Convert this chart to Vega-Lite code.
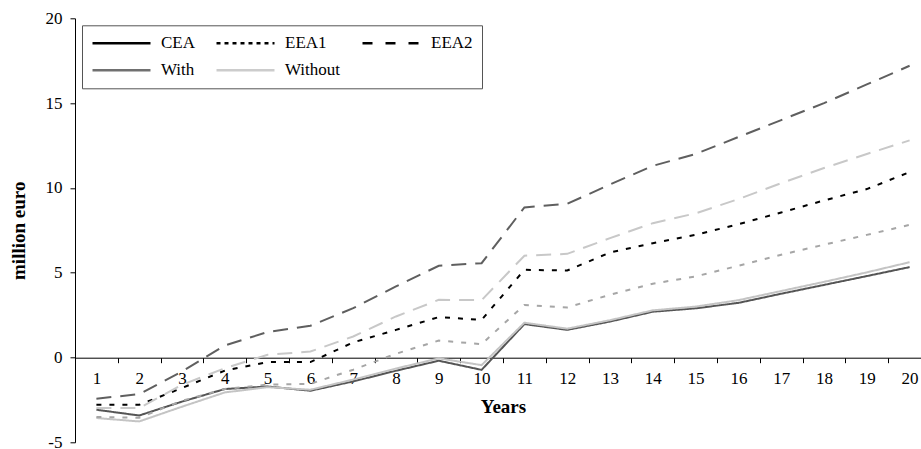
{
  "$schema": "https://vega.github.io/schema/vega-lite/v6.json",
  "autosize": {"type": "none"},
  "width": 846,
  "height": 424,
  "padding": {"left": 75, "top": 18.3, "right": 0, "bottom": 6.7},
  "background": "white",
  "config": {
    "font": "Liberation Serif",
    "view": {"stroke": null},
    "axis": {"labelFont": "Liberation Serif", "titleFont": "Liberation Serif", "domainColor": "#000", "tickColor": "#000", "labelColor": "#000", "titleColor": "#000", "grid": false, "labelFontSize": 17, "titleFontSize": 19, "titleFontWeight": "bold", "tickSize": 5, "labelPadding": 8},
    "legend": {"labelFont": "Liberation Serif"}
  },
  "datasets": {
    "lines": [
      {"year": 1, "series": "CEA With", "value": -3.08}, {"year": 2, "series": "CEA With", "value": -3.42}, {"year": 3, "series": "CEA With", "value": -2.6}, {"year": 4, "series": "CEA With", "value": -1.86}, {"year": 5, "series": "CEA With", "value": -1.71}, {"year": 6, "series": "CEA With", "value": -1.96}, {"year": 7, "series": "CEA With", "value": -1.41}, {"year": 8, "series": "CEA With", "value": -0.78}, {"year": 9, "series": "CEA With", "value": -0.19}, {"year": 10, "series": "CEA With", "value": -0.73}, {"year": 11, "series": "CEA With", "value": 1.97}, {"year": 12, "series": "CEA With", "value": 1.63}, {"year": 13, "series": "CEA With", "value": 2.12}, {"year": 14, "series": "CEA With", "value": 2.7}, {"year": 15, "series": "CEA With", "value": 2.9}, {"year": 16, "series": "CEA With", "value": 3.22}, {"year": 17, "series": "CEA With", "value": 3.76}, {"year": 18, "series": "CEA With", "value": 4.28}, {"year": 19, "series": "CEA With", "value": 4.8}, {"year": 20, "series": "CEA With", "value": 5.33},
      {"year": 1, "series": "CEA Without", "value": -3.57}, {"year": 2, "series": "CEA Without", "value": -3.77}, {"year": 3, "series": "CEA Without", "value": -2.9}, {"year": 4, "series": "CEA Without", "value": -2.06}, {"year": 5, "series": "CEA Without", "value": -1.75}, {"year": 6, "series": "CEA Without", "value": -1.9}, {"year": 7, "series": "CEA Without", "value": -1.3}, {"year": 8, "series": "CEA Without", "value": -0.65}, {"year": 9, "series": "CEA Without", "value": -0.05}, {"year": 10, "series": "CEA Without", "value": -0.45}, {"year": 11, "series": "CEA Without", "value": 2.05}, {"year": 12, "series": "CEA Without", "value": 1.7}, {"year": 13, "series": "CEA Without", "value": 2.2}, {"year": 14, "series": "CEA Without", "value": 2.78}, {"year": 15, "series": "CEA Without", "value": 3.0}, {"year": 16, "series": "CEA Without", "value": 3.38}, {"year": 17, "series": "CEA Without", "value": 3.92}, {"year": 18, "series": "CEA Without", "value": 4.46}, {"year": 19, "series": "CEA Without", "value": 5.02}, {"year": 20, "series": "CEA Without", "value": 5.62},
      {"year": 1, "series": "EEA1 With", "value": -2.79}, {"year": 2, "series": "EEA1 With", "value": -2.79}, {"year": 3, "series": "EEA1 With", "value": -1.8}, {"year": 4, "series": "EEA1 With", "value": -0.77}, {"year": 5, "series": "EEA1 With", "value": -0.27}, {"year": 6, "series": "EEA1 With", "value": -0.27}, {"year": 7, "series": "EEA1 With", "value": 0.89}, {"year": 8, "series": "EEA1 With", "value": 1.63}, {"year": 9, "series": "EEA1 With", "value": 2.38}, {"year": 10, "series": "EEA1 With", "value": 2.22}, {"year": 11, "series": "EEA1 With", "value": 5.17}, {"year": 12, "series": "EEA1 With", "value": 5.13}, {"year": 13, "series": "EEA1 With", "value": 6.19}, {"year": 14, "series": "EEA1 With", "value": 6.74}, {"year": 15, "series": "EEA1 With", "value": 7.23}, {"year": 16, "series": "EEA1 With", "value": 7.86}, {"year": 17, "series": "EEA1 With", "value": 8.55}, {"year": 18, "series": "EEA1 With", "value": 9.26}, {"year": 19, "series": "EEA1 With", "value": 9.93}, {"year": 20, "series": "EEA1 With", "value": 10.93},
      {"year": 1, "series": "EEA1 Without", "value": -3.51}, {"year": 2, "series": "EEA1 Without", "value": -3.55}, {"year": 3, "series": "EEA1 Without", "value": -2.55}, {"year": 4, "series": "EEA1 Without", "value": -1.86}, {"year": 5, "series": "EEA1 Without", "value": -1.6}, {"year": 6, "series": "EEA1 Without", "value": -1.55}, {"year": 7, "series": "EEA1 Without", "value": -0.72}, {"year": 8, "series": "EEA1 Without", "value": 0.22}, {"year": 9, "series": "EEA1 Without", "value": 1.0}, {"year": 10, "series": "EEA1 Without", "value": 0.79}, {"year": 11, "series": "EEA1 Without", "value": 3.1}, {"year": 12, "series": "EEA1 Without", "value": 2.95}, {"year": 13, "series": "EEA1 Without", "value": 3.7}, {"year": 14, "series": "EEA1 Without", "value": 4.35}, {"year": 15, "series": "EEA1 Without", "value": 4.78}, {"year": 16, "series": "EEA1 Without", "value": 5.41}, {"year": 17, "series": "EEA1 Without", "value": 6.06}, {"year": 18, "series": "EEA1 Without", "value": 6.65}, {"year": 19, "series": "EEA1 Without", "value": 7.23}, {"year": 20, "series": "EEA1 Without", "value": 7.82},
      {"year": 1, "series": "EEA2 With", "value": -2.43}, {"year": 2, "series": "EEA2 With", "value": -2.16}, {"year": 3, "series": "EEA2 With", "value": -0.82}, {"year": 4, "series": "EEA2 With", "value": 0.71}, {"year": 5, "series": "EEA2 With", "value": 1.5}, {"year": 6, "series": "EEA2 With", "value": 1.87}, {"year": 7, "series": "EEA2 With", "value": 2.91}, {"year": 8, "series": "EEA2 With", "value": 4.19}, {"year": 9, "series": "EEA2 With", "value": 5.41}, {"year": 10, "series": "EEA2 With", "value": 5.56}, {"year": 11, "series": "EEA2 With", "value": 8.85}, {"year": 12, "series": "EEA2 With", "value": 9.06}, {"year": 13, "series": "EEA2 With", "value": 10.2}, {"year": 14, "series": "EEA2 With", "value": 11.3}, {"year": 15, "series": "EEA2 With", "value": 12.0}, {"year": 16, "series": "EEA2 With", "value": 13.0}, {"year": 17, "series": "EEA2 With", "value": 14.0}, {"year": 18, "series": "EEA2 With", "value": 15.0}, {"year": 19, "series": "EEA2 With", "value": 16.1}, {"year": 20, "series": "EEA2 With", "value": 17.2},
      {"year": 1, "series": "EEA2 Without", "value": -2.98}, {"year": 2, "series": "EEA2 Without", "value": -2.98}, {"year": 3, "series": "EEA2 Without", "value": -1.61}, {"year": 4, "series": "EEA2 Without", "value": -0.63}, {"year": 5, "series": "EEA2 Without", "value": 0.16}, {"year": 6, "series": "EEA2 Without", "value": 0.35}, {"year": 7, "series": "EEA2 Without", "value": 1.24}, {"year": 8, "series": "EEA2 Without", "value": 2.42}, {"year": 9, "series": "EEA2 Without", "value": 3.4}, {"year": 10, "series": "EEA2 Without", "value": 3.38}, {"year": 11, "series": "EEA2 Without", "value": 6.0}, {"year": 12, "series": "EEA2 Without", "value": 6.11}, {"year": 13, "series": "EEA2 Without", "value": 7.04}, {"year": 14, "series": "EEA2 Without", "value": 7.92}, {"year": 15, "series": "EEA2 Without", "value": 8.5}, {"year": 16, "series": "EEA2 Without", "value": 9.34}, {"year": 17, "series": "EEA2 Without", "value": 10.28}, {"year": 18, "series": "EEA2 Without", "value": 11.17}, {"year": 19, "series": "EEA2 Without", "value": 12.0}, {"year": 20, "series": "EEA2 Without", "value": 12.8}
    ],
    "legend": [
      {"year": 1, "key": "CEA", "value": null},
      {"year": 1, "key": "EEA1", "value": null},
      {"year": 1, "key": "EEA2", "value": null},
      {"year": 1, "key": "With", "value": null},
      {"year": 1, "key": "Without", "value": null}
    ]
  },
  "encoding": {
    "x": {
      "field": "year", "type": "ordinal",
      "scale": {"type": "band", "paddingInner": 0, "paddingOuter": 0, "range": [0, 856]},
      "axis": {"title": "Years", "labelAngle": 0, "offset": -84.6, "tickBand": "extent", "titlePadding": 11}
    },
    "y": {
      "field": "value", "type": "quantitative",
      "scale": {"domain": [-5, 20], "nice": false, "zero": false},
      "axis": {"title": "million euro", "values": [-5, 0, 5, 10, 15, 20], "labelExpr": "'' + datum.value", "titlePadding": 17}
    }
  },
  "layer": [
    {
      "data": {"name": "lines"},
      "mark": {"type": "line", "clip": false},
      "encoding": {
        "detail": {"field": "series"},
        "color": {"field": "series", "type": "nominal", "legend": null,
          "scale": {"domain": ["CEA With", "CEA Without", "EEA1 With", "EEA1 Without", "EEA2 With", "EEA2 Without"],
                    "range": ["#555555", "#c4c4c4", "#000000", "#a6a6a6", "#5f5f5f", "#c8c8c8"]}},
        "strokeDash": {"field": "series", "type": "nominal", "legend": null,
          "scale": {"domain": ["CEA With", "CEA Without", "EEA1 With", "EEA1 Without", "EEA2 With", "EEA2 Without"],
                    "range": [[1, 0], [1, 0], [5, 8], [5, 8], [15, 9], [15, 9]]}},
        "strokeWidth": {"field": "series", "type": "nominal", "legend": null,
          "scale": {"domain": ["CEA With", "CEA Without", "EEA1 With", "EEA1 Without", "EEA2 With", "EEA2 Without"],
                    "range": [2, 2, 2.6, 2.6, 2.6, 2.6]}}
      }
    },
    {
      "data": {"name": "legend"},
      "mark": {"type": "line"},
      "encoding": {
        "color": {"field": "key", "type": "nominal",
          "scale": {"domain": ["CEA", "EEA1", "EEA2", "With", "Without"], "range": ["#000000", "#000000", "#000000", "#707070", "#cccccc"]},
          "legend": {"title": null, "orient": "none", "legendX": 7, "legendY": 7, "direction": "horizontal", "columns": 3,
            "symbolType": "stroke", "symbolSize": 3364, "symbolStrokeWidth": 2.5, "clipHeight": 18, "rowPadding": 9, "columnPadding": 20,
            "labelFontSize": 17, "labelColor": "#000", "labelOffset": 9, "padding": 9, "strokeColor": "#555555", "fillColor": "white", "cornerRadius": 0}},
        "strokeDash": {"field": "key", "type": "nominal",
          "scale": {"domain": ["CEA", "EEA1", "EEA2", "With", "Without"], "range": [[1, 0], [4, 4], [10, 13], [1, 0], [1, 0]]}}
      }
    }
  ],
  "resolve": {"scale": {"color": "independent", "strokeDash": "independent"}}
}
